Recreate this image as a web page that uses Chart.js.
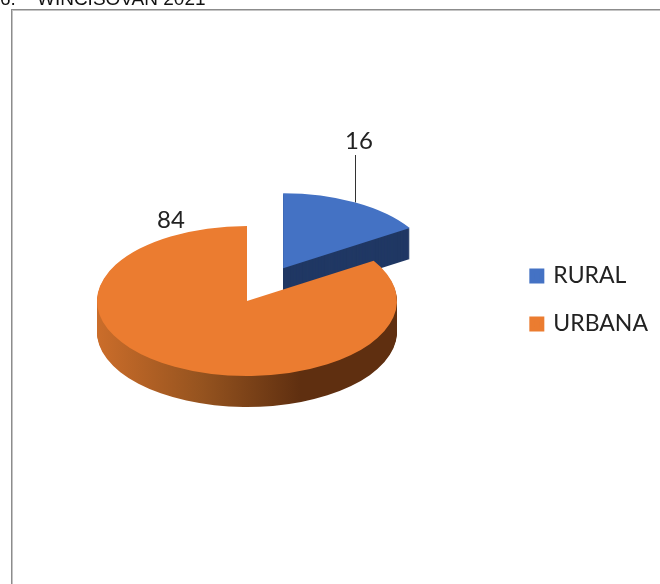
<!DOCTYPE html>
<html>
<head>
<meta charset="utf-8">
<script src="https://cdn.jsdelivr.net/npm/chart.js@4"></script>
<style>
html,body{margin:0;padding:0;background:#fff;overflow:hidden}
#wrap{position:relative;width:660px;height:584px;overflow:hidden;filter:blur(0.35px)}
#title{position:absolute;left:0;top:-12px;font:19px "Liberation Sans",Arial,sans-serif;color:#111;white-space:pre}
#frame{position:absolute;left:11px;top:9px;width:700px;height:700px;border:1px solid #8c8c8c;box-shadow:inset 1px 1px 0 #c4c4c4}
canvas{position:absolute;left:0;top:0}
</style>
</head>
<body>
<div id="wrap">
<div id="title">6.    WINCISOVAN 2021</div>
<div id="frame"></div>
<canvas id="c" width="660" height="584"></canvas>
</div>
<script>
const categories = ['RURAL', 'URBANA'];
const values = [16, 84];
const topColors = ['#4472C4', '#EB7C30'];
const explode = [75, 0];

const CENTER_X = 247, CENTER_Y = 301, RADIUS = 150, TILT = 0.5, DEPTH = 31;

function wallFill(ctx, i) {
  if (i === 0) return '#203864';
  const g = ctx.createLinearGradient(CENTER_X - RADIUS, 0, CENTER_X + RADIUS, 0);
  g.addColorStop(0, '#CB6D2A');
  g.addColorStop(0.35, '#95531F');
  g.addColorStop(0.68, '#5F2F10');
  g.addColorStop(1, '#5F2F10');
  return g;
}

const pie3d = {
  id: 'pie3d',
  beforeDatasetDraw(chart, args) {
    const ctx = chart.ctx;
    const arcs = args.meta.data;
    const place = (arc, i, dy) => {
      const mid = (arc.startAngle + arc.endAngle) / 2;
      ctx.translate(CENTER_X, CENTER_Y + dy);
      ctx.scale(1, TILT);
      ctx.translate(Math.cos(mid) * explode[i], Math.sin(mid) * explode[i]);
      ctx.translate(-arc.x, -arc.y);
    };
    arcs.forEach((arc, i) => {
      // side wall
      for (let d = DEPTH; d >= 1; d--) {
        ctx.save();
        place(arc, i, d);
        ctx.beginPath();
        ctx.moveTo(arc.x, arc.y);
        ctx.arc(arc.x, arc.y, arc.outerRadius, arc.startAngle, arc.endAngle);
        ctx.closePath();
        ctx.restore();
        ctx.fillStyle = wallFill(ctx, i);
        ctx.fill();
      }
      // top face, drawn by the library's element
      ctx.save();
      place(arc, i, 0);
      arc.draw(ctx);
      ctx.restore();
    });
    // leader line of the first slice
    const a = arcs[0];
    const mid = (a.startAngle + a.endAngle) / 2;
    const lx = CENTER_X + Math.cos(mid) * (explode[0] + a.outerRadius);
    const ly = CENTER_Y + Math.sin(mid) * (explode[0] + a.outerRadius) * TILT;
    ctx.save();
    ctx.strokeStyle = '#333';
    ctx.lineWidth = 1;
    ctx.beginPath();
    ctx.moveTo(Math.round(lx) + 0.5, ly);
    ctx.lineTo(Math.round(lx) + 0.5, 155);
    ctx.stroke();
    ctx.fillStyle = '#222';
    ctx.font = '24px Lato';
    ctx.textAlign = 'center';
    ctx.textBaseline = 'middle';
    ctx.fillText(String(values[0]), 359, 141);
    ctx.fillText(String(values[1]), 171, 220);
    ctx.restore();
    return false;
  }
};

new Chart(document.getElementById('c'), {
  type: 'pie',
  data: {
    labels: categories,
    datasets: [{
      data: values,
      backgroundColor: topColors,
      borderWidth: 0,
      hoverOffset: 0,
      radius: RADIUS
    }]
  },
  options: {
    responsive: false,
    animation: false,
    rotation: 0,
    layout: { padding: { top: 16, right: 2 } },
    plugins: {
      title: { display: false },
      tooltip: { enabled: false },
      legend: {
        position: 'right',
        labels: {
          boxWidth: 10, boxHeight: 10, padding: 25,
          color: '#222',
          font: { family: 'Lato', size: 23 },
          generateLabels(chart) {
            return Chart.overrides.pie.plugins.legend.labels.generateLabels(chart).map(item => {
              item.strokeStyle = item.fillStyle;
              item.lineWidth = 5;
              return item;
            });
          }
        }
      }
    }
  },
  plugins: [pie3d]
});
</script>
</body>
</html>
